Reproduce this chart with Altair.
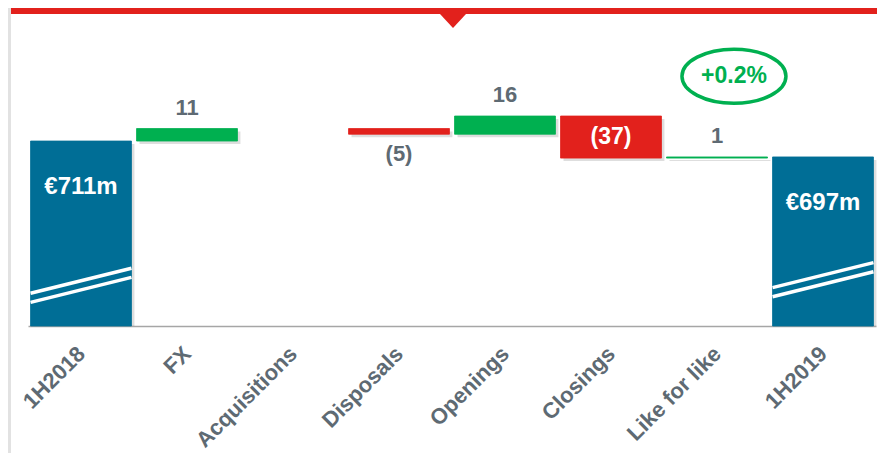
import json
import altair as alt
import pandas as pd

# ---------------- data ----------------
categories = ["1H2018", "FX", "Acquisitions", "Disposals", "Openings",
              "Closings", "Like for like", "1H2019"]
values = [711, 11, 0, -5, 16, -37, 1, 697]
is_total = [True, False, False, False, False, False, False, True]
lfl_growth = ["+0.2%"]

# ---------------- styles ----------------
BLUE = "#006e96"
GREEN = "#00b050"
RED = "#e2211c"
GRAY = "#5e6a73"
FONT = "Liberation Sans"
Y_MIN, Y_MAX = 548.2, 828.1
HALF = 0.476
W, H = 848, 318
SH_X, SH_Y = 0.028, 2.6   # drop-shadow offset

rows = []
running = 0
for i, (c, v, t) in enumerate(zip(categories, values, is_total)):
    if t:
        start, end = Y_MIN, v
        running = v
        kind = "total"
        label = f"€{v}m"
    else:
        start = running
        end = running + v
        running = end
        kind = "pos" if v > 0 else ("neg" if v < 0 else "zero")
        label = "" if v == 0 else (str(v) if v > 0 else f"({abs(v)})")
    if kind == "neg":
        place = "inside" if abs(v) >= 20 else "below"
    elif kind == "pos":
        place = "above"
    elif kind == "total":
        place = "top"
    else:
        place = "none"
    lo, hi = min(start, end), max(start, end)
    rows.append(dict(idx=i, cat=c, value=v, start=start, end=end,
                     lo=lo, hi=hi, mid=(start + end) / 2, kind=kind, label=label,
                     place=place, x0=i - HALF, x1=i + HALF,
                     sx0=i - HALF + SH_X, sx1=i + HALF + SH_X,
                     slo=max(lo - SH_Y, Y_MIN), shi=hi - SH_Y))
df = pd.DataFrame(rows)

# break marks on total bars (decorative axis-break lines)
brk = []
for i, (t, b) in enumerate(zip(is_total, [577, None, None, None, None, None, None, 582])):
    if t:
        for g in (0, -8):
            brk.append(dict(x0=i - HALF, x1=i + HALF, y0=b + g, y1=b + g + 22))
brk_df = pd.DataFrame(brk)

annot_df = pd.DataFrame({"x": [6.16], "y": [768.0], "text": lfl_growth})
one = pd.DataFrame({"a": [0]})

label_expr = json.dumps(categories) + "[datum.value]"

xs = alt.Scale(domain=[-0.5, 7.5], nice=False, zero=False)
ys = alt.Scale(domain=[Y_MIN, Y_MAX], nice=False, zero=False)

x_axis = alt.Axis(values=list(range(len(categories))), labelExpr=label_expr,
                  title=None, grid=False, ticks=False, domain=True,
                  domainColor="#a6a6a6", domainWidth=1.5,
                  labelAngle=-45, labelAlign="right", labelBaseline="middle",
                  labelPadding=24, labelFont=FONT, labelFontWeight="bold",
                  labelFontSize=22, labelColor=GRAY, labelFlush=False,
                  labelOverlap=False, labelBound=False)

base = alt.Chart(df)
nonzero = "datum.kind != 'zero'"

shadow = base.transform_filter(nonzero).mark_rect(color="#000000", opacity=0.13).encode(
    x=alt.X("sx0:Q", scale=xs, axis=x_axis),
    x2="sx1:Q",
    y=alt.Y("slo:Q", scale=ys, axis=None),
    y2="shi:Q",
)

cscale = alt.Scale(domain=["total", "pos", "neg"], range=[BLUE, GREEN, RED])
bars = base.transform_filter(nonzero).mark_bar(strokeWidth=0.8).encode(
    x=alt.X("x0:Q", scale=xs, axis=x_axis),
    x2="x1:Q",
    y=alt.Y("lo:Q", scale=ys, axis=None),
    y2="hi:Q",
    color=alt.Color("kind:N", scale=cscale, legend=None),
    stroke=alt.Color("kind:N", scale=cscale, legend=None),
)

breaks = alt.Chart(brk_df).mark_rule(color="white", strokeWidth=3.5).encode(
    x=alt.X("x0:Q", scale=xs), x2="x1:Q",
    y=alt.Y("y0:Q", scale=ys), y2="y1:Q",
)

txt_common = dict(font=FONT, fontWeight="bold")

t_above = base.transform_filter("datum.place == 'above'").mark_text(
    baseline="alphabetic", dy=-14, fontSize=22, color=GRAY, **txt_common).encode(
    x=alt.X("idx:Q", scale=xs), y=alt.Y("hi:Q", scale=ys), text="label:N")

t_below = base.transform_filter("datum.place == 'below'").mark_text(
    baseline="top", dy=10, fontSize=22, color=GRAY, **txt_common).encode(
    x=alt.X("idx:Q", scale=xs), y=alt.Y("lo:Q", scale=ys), text="label:N")

t_inside = base.transform_filter("datum.place == 'inside'").mark_text(
    baseline="middle", fontSize=23, color="white", **txt_common).encode(
    x=alt.X("idx:Q", scale=xs), y=alt.Y("mid:Q", scale=ys), text="label:N")

t_top = base.transform_filter("datum.place == 'top'").mark_text(
    baseline="middle", dy=46, fontSize=24, color="white", **txt_common).encode(
    x=alt.X("idx:Q", scale=xs), y=alt.Y("end:Q", scale=ys), text="label:N")

k = 0.52
c = 0.5523 * k
ellipse_path = (f"M -1 0 C -1 {-c} -0.5523 {-k} 0 {-k} "
                f"C 0.5523 {-k} 1 {-c} 1 0 "
                f"C 1 {c} 0.5523 {k} 0 {k} "
                f"C -0.5523 {k} -1 {c} -1 0 Z")

ellipse = alt.Chart(annot_df).mark_point(
    shape=ellipse_path, filled=False, stroke=GREEN, strokeWidth=3.5,
    size=104 * 104, opacity=1).encode(
    x=alt.X("x:Q", scale=xs), y=alt.Y("y:Q", scale=ys))

annot_text = alt.Chart(annot_df).mark_text(
    baseline="middle", fontSize=23, color=GREEN, **txt_common).encode(
    x=alt.X("x:Q", scale=xs), y=alt.Y("y:Q", scale=ys), text="text:N")

# decorative frame: red top band, triangle pointer, light left edge
red_band = alt.Chart(one).mark_rect(color=RED).encode(
    x=alt.value(-17), x2=alt.value(849), y=alt.value(0), y2=alt.value(6))

tri = alt.Chart(one).mark_point(
    shape="M -1 -0.54 L 1 -0.54 L 0 0.54 Z", filled=True, color=RED,
    size=676, opacity=1, strokeWidth=0).encode(
    x=alt.value(425), y=alt.value(13))

left_edge = alt.Chart(one).mark_rect(color="#e2e2e2").encode(
    x=alt.value(-20), x2=alt.value(-17), y=alt.value(0), y2=alt.value(445))

chart = alt.layer(
    left_edge, red_band, tri, shadow, bars, breaks,
    t_above, t_below, t_inside, t_top, ellipse, annot_text
).properties(
    width=W, height=H, background="white",
    padding={"left": 20, "top": 0, "right": 1, "bottom": 445 - H},
    autosize=alt.AutoSizeParams(type="none"),
).configure_view(stroke=None)

chart.save("out.html", embed_options={"renderer": "svg", "actions": False})
